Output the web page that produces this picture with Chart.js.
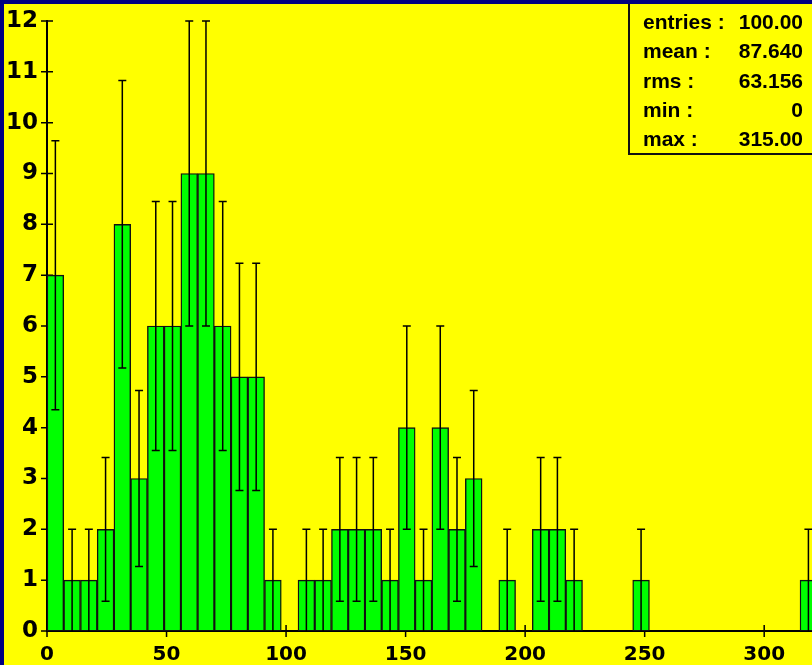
<!DOCTYPE html>
<html>
<head>
<meta charset="utf-8">
<script src="https://cdn.jsdelivr.net/npm/chart.js@4/dist/chart.umd.min.js"></script>
<style>
  html, body { margin: 0; padding: 0; background: #000080; }
  #wrap { position: relative; width: 812px; height: 665px; overflow: hidden; }
  #stats {
    position: absolute; left: 628px; top: 4px; width: 200px; height: 146px;
    border-left: 2px solid #111; border-bottom: 2px solid #111;
    box-sizing: content-box; padding-top: 3px;
    font: bold 21px "Liberation Sans", Arial, sans-serif; color: #000;
  }
  #stats .row { position: relative; height: 29.3px; line-height: 29.3px; }
  #stats .lab { position: absolute; left: 13px; }
  #stats .val { position: absolute; left: 13px; width: 160px; text-align: right; }
</style>
</head>
<body>
<div id="wrap">
  <canvas id="chart" width="812" height="665"></canvas>
  <div id="stats"></div>
</div>
<script>
// histogram bins (lower edge of each 7-wide bin) and their entries
const binWidth = 7
const binLow = [0, 7, 14, 21, 28, 35, 42, 49, 56, 63, 70, 77, 84, 91, 98, 105, 112, 119, 126, 133,
  140, 147, 154, 161, 168, 175, 182, 189, 196, 203, 210, 217, 224, 231, 238, 245, 252, 259, 266, 273,
  280, 287, 294, 301, 308, 315]
const counts = [7, 1, 1, 2, 8, 3, 6, 6, 9, 9, 6, 5, 5, 1, 0, 1, 1, 2, 2, 2,
  1, 4, 1, 4, 2, 3, 0, 1, 0, 2, 2, 1, 0, 0, 0, 1, 0, 0, 0, 0,
  0, 0, 0, 0, 0, 1]
const xTicks = [0, 50, 100, 150, 200, 250, 300]
const yTicks = [0, 1, 2, 3, 4, 5, 6, 7, 8, 9, 10, 11, 12]
const statLabels = ["entries :", "mean :", "rms :", "min :", "max :"]
const statValues = ["100.00", "87.640", "63.156", "0", "315.00"]

const stats = document.getElementById("stats")
statLabels.forEach((l, i) => {
  const row = document.createElement("div")
  row.className = "row"
  row.innerHTML = `<span class="lab">${l}</span><span class="val">${statValues[i]}</span>`
  stats.appendChild(row)
})

// navy frame + yellow pad
const framePlugin = {
  id: "frame",
  beforeDraw(chart) {
    const ctx = chart.ctx
    ctx.save()
    ctx.fillStyle = "#000080"
    ctx.fillRect(0, 0, chart.width, chart.height)
    ctx.fillStyle = "#ffff00"
    ctx.fillRect(4, 4, chart.width - 4, chart.height - 4)
    ctx.restore()
  }
}

// tick marks crossing the axes (bars drawn over them)
const crossTicks = {
  id: "crossTicks",
  beforeDatasetsDraw(chart) {
    const ctx = chart.ctx
    const { x, y } = chart.scales
    const a = chart.chartArea
    ctx.save()
    ctx.strokeStyle = "#000"
    ctx.lineWidth = 1.5
    ctx.beginPath()
    xTicks.forEach(v => {
      const px = x.getPixelForValue(v)
      ctx.moveTo(px, a.bottom - 6); ctx.lineTo(px, a.bottom + 6)
    })
    yTicks.forEach(v => {
      const py = y.getPixelForValue(v)
      ctx.moveTo(a.left - 6, py); ctx.lineTo(a.left + 6, py)
    })
    ctx.stroke()
    ctx.restore()
  }
}

// sqrt(N) error bars at bin centres
const errorBars = {
  id: "errorBars",
  afterDatasetsDraw(chart) {
    const ctx = chart.ctx
    const y = chart.scales.y
    const meta = chart.getDatasetMeta(0)
    ctx.save()
    ctx.strokeStyle = "#000"
    ctx.lineWidth = 1.5
    meta.data.forEach((bar, i) => {
      const n = counts[i]
      if (!n) return
      const e = Math.sqrt(n)
      const top = y.getPixelForValue(n + e)
      const bot = y.getPixelForValue(Math.max(n - e, 0))
      ctx.beginPath()
      ctx.moveTo(bar.x, top); ctx.lineTo(bar.x, bot)
      ctx.moveTo(bar.x - 4, top); ctx.lineTo(bar.x + 4, top)
      if (n - e > 0) { ctx.moveTo(bar.x - 4, bot); ctx.lineTo(bar.x + 4, bot) }
      ctx.stroke()
    })
    ctx.restore()
  }
}

new Chart(document.getElementById("chart"), {
  type: "bar",
  data: {
    datasets: [{
      data: binLow.map((lo, i) => ({ x: lo + binWidth / 2, y: counts[i] })),
      backgroundColor: "#00ff00",
      borderColor: "#111",
      borderWidth: 1.4,
      borderSkipped: false,
      barPercentage: 1,
      categoryPercentage: 1
    }]
  },
  options: {
    responsive: false,
    animation: false,
    events: [],
    layout: { padding: { top: 21, right: 0, bottom: 0, left: 0 } },
    plugins: { legend: { display: false }, tooltip: { enabled: false } },
    scales: {
      x: {
        type: "linear",
        min: 0,
        max: 320,
        offset: false,
        afterBuildTicks: s => { s.ticks = xTicks.map(v => ({ value: v })) },
        afterFit: s => { s.height = 34 },
        grid: { display: false },
        border: { display: true, color: "#000", width: 2 },
        ticks: { color: "#000", padding: 4, maxRotation: 0, font: { family: "DejaVu Sans", size: 20, weight: "bold" } }
      },
      y: {
        min: 0,
        max: 12,
        afterBuildTicks: s => { s.ticks = yTicks.map(v => ({ value: v })) },
        afterFit: s => { s.width = 47 },
        grid: { display: false },
        border: { display: true, color: "#000", width: 2 },
        ticks: { color: "#000", padding: 1, font: { family: "DejaVu Sans", size: 23, weight: "bold" } }
      }
    }
  },
  plugins: [framePlugin, crossTicks, errorBars]
})
</script>
</body>
</html>
